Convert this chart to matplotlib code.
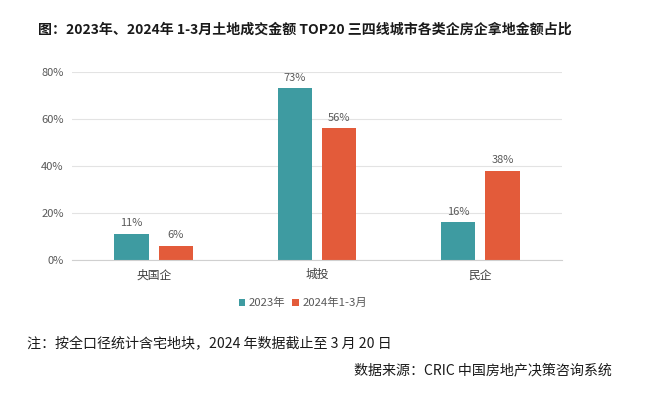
import matplotlib
matplotlib.use("Agg")
import matplotlib.pyplot as plt
import numpy as np

plt.rcParams['font.family'] = ['Noto Sans CJK SC', 'DejaVu Sans']

categories = ['央国企', '城投', '民企']
series_names = ['2023年', '2024年1-3月']
v2023 = [11, 73, 16]
v2024 = [6, 56, 38]
yticks = [0, 20, 40, 60, 80]

teal = '#3E9BA1'
orange = '#E35B3A'
txt = '#595959'

fig = plt.figure(figsize=(6.6, 4.03), dpi=100)
ax = fig.add_axes([72/660, 1-260/403, 490/660, (260-72)/403])

x = np.arange(len(categories))
w = 0.21
off = 0.135
b1 = ax.bar(x - off, v2023, w, color=teal, label=series_names[0], zorder=3)
b2 = ax.bar(x + off, v2024, w, color=orange, label=series_names[1], zorder=3)
for bars, vals in ((b1, v2023), (b2, v2024)):
    for b, v in zip(bars, vals):
        ax.text(b.get_x() + b.get_width()/2, v + 2.5, f'{v}%', ha='center', va='bottom',
                fontsize=8, color=txt)

ax.set_xlim(-0.5, 2.5)
ax.set_ylim(0, 80)
ax.set_yticks(yticks)
ax.set_yticklabels([f'{t}%' for t in yticks], fontsize=8, color=txt)
ax.set_xticks(x)
ax.set_xticklabels(categories, fontsize=8.5, color='#404040')
ax.tick_params(axis='both', length=0, pad=6)
ax.yaxis.grid(True, color='#E3E3E3', linewidth=0.8, zorder=0)
for s in ['top', 'right', 'left']:
    ax.spines[s].set_visible(False)
ax.spines['bottom'].set_color('#D0D0D0')
ax.spines['bottom'].set_zorder(4)

fig.legend(handles=[b1, b2], labels=series_names, loc='center', bbox_to_anchor=(303/660, 1-303/403),
           ncol=2, frameon=False, fontsize=8.2, handlelength=0.6, handleheight=0.6,
           handletextpad=0.3, columnspacing=0.6, labelcolor=txt)

fig.text(38/660, 1-30/403, '图：2023年、2024年 1-3月土地成交金额 TOP20 三四线城市各类企房企拿地金额占比',
         fontsize=10.05, fontweight='bold', color='#1a1a1a', va='center', ha='left')
fig.text(27/660, 1-344/403, '注：按全口径统计含宅地块，2024 年数据截止至 3 月 20 日',
         fontsize=10.1, color='#1a1a1a', va='center', ha='left')
fig.text(612/660, 1-370/403, '数据来源：CRIC 中国房地产决策咨询系统',
         fontsize=10.1, color='#1a1a1a', va='center', ha='right')

fig.savefig('out.png', dpi=100, facecolor='white')
